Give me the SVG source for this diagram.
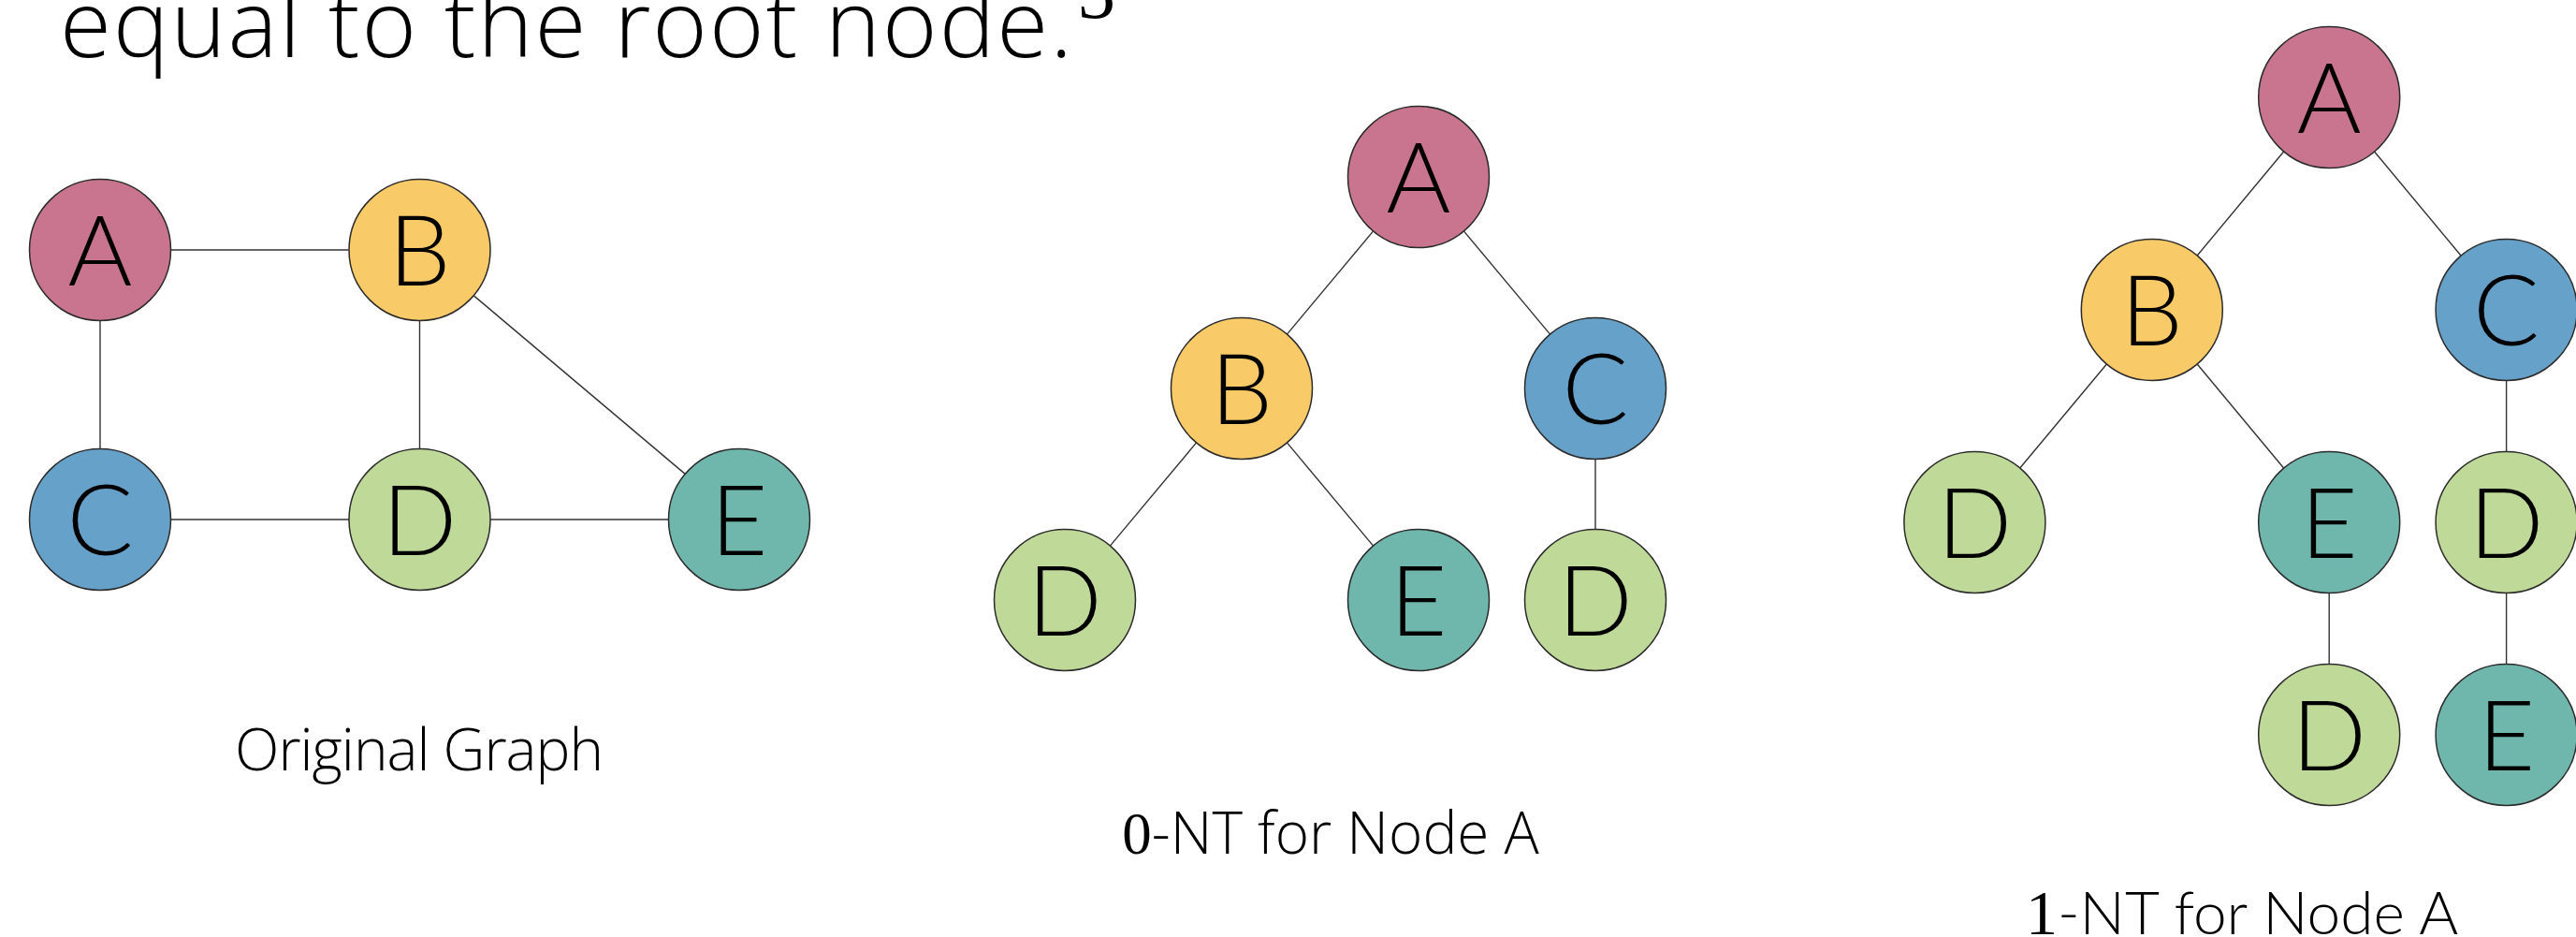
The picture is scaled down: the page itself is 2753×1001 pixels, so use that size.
<svg xmlns="http://www.w3.org/2000/svg" width="2753" height="1001" viewBox="0 0 2753 1001">
<style>
.n{stroke:#2b2b2b;stroke-width:1.5}
.a{fill:#C97590}.b{fill:#F9CA68}.c{fill:#66A1C9}.d{fill:#BFD999}.e{fill:#6FB6AD}
.l{font-family:Lato,"Open Sans",sans-serif;font-weight:300;font-size:105px;text-anchor:middle;fill:#000}
.cap{font-family:"Open Sans",Lato,sans-serif;font-weight:300;font-size:62px;text-anchor:middle;fill:#000}
.m{font-family:"Liberation Serif",serif;font-weight:400}
.edges line{stroke:#333;stroke-width:1.4}
</style>
<rect width="2753" height="1001" fill="#fff"/>
<text x="64" y="61" font-family="'Open Sans',Lato,sans-serif" font-weight="300" font-size="100" fill="#000" textLength="1082" lengthAdjust="spacing">equal to the root node.</text>
<text x="1152" y="19" class="m" font-size="80" fill="#000">3</text>
<g class="edges">
<line x1="182.5" y1="267" x2="372.5" y2="267"/>
<line x1="107" y1="342.5" x2="107" y2="479.5"/>
<line x1="448.5" y1="342.5" x2="448.5" y2="479.5"/>
<line x1="182.5" y1="555" x2="373" y2="555"/>
<line x1="524" y1="555" x2="714.5" y2="555"/>
<line x1="506" y1="315.6" x2="732.2" y2="506.4"/>
<line x1="1467.6" y1="246.9" x2="1375.4" y2="357.1"/>
<line x1="1564.4" y1="246.9" x2="1656.6" y2="357.1"/>
<line x1="1278.6" y1="472.9" x2="1186.4" y2="583.1"/>
<line x1="1375.4" y1="472.9" x2="1467.6" y2="583.1"/>
<line x1="1705" y1="490.5" x2="1705" y2="565.5"/>
<line x1="2440.6" y1="162" x2="2348.2" y2="273"/>
<line x1="2537.6" y1="162" x2="2630" y2="273"/>
<line x1="2251.4" y1="389" x2="2158.8" y2="500"/>
<line x1="2348.2" y1="389" x2="2440.6" y2="500"/>
<line x1="2678.6" y1="406.5" x2="2678.6" y2="482.5"/>
<line x1="2489.2" y1="633.5" x2="2489.2" y2="709.5"/>
<line x1="2678.6" y1="633.5" x2="2678.6" y2="709.5"/>
</g>
<g id="g-A"><circle class="n a" cx="107" cy="267" r="75.5"/><text class="l" x="107" y="304.7">A</text></g>
<g id="g-B"><circle class="n b" cx="448.5" cy="267" r="75.5"/><text class="l" x="448.5" y="304.7">B</text></g>
<g id="g-C"><circle class="n c" cx="107" cy="555" r="75.5"/><text class="l" x="107" y="592.7">C</text></g>
<g id="g-D"><circle class="n d" cx="448.5" cy="555" r="75.5"/><text class="l" x="448.5" y="592.7">D</text></g>
<g id="g-E"><circle class="n e" cx="790" cy="555" r="75.5"/><text class="l" x="790" y="592.7">E</text></g>
<text id="label-original" class="cap" x="448" y="823" textLength="394" lengthAdjust="spacing">Original Graph</text>
<g id="t0-A"><circle class="n a" cx="1516" cy="189" r="75.5"/><text class="l" x="1516" y="226.7">A</text></g>
<g id="t0-B"><circle class="n b" cx="1327" cy="415" r="75.5"/><text class="l" x="1327" y="452.7">B</text></g>
<g id="t0-C"><circle class="n c" cx="1705" cy="415" r="75.5"/><text class="l" x="1705" y="452.7">C</text></g>
<g id="t0-D"><circle class="n d" cx="1138" cy="641" r="75.5"/><text class="l" x="1138" y="678.7">D</text></g>
<g id="t0-E"><circle class="n e" cx="1516" cy="641" r="75.5"/><text class="l" x="1516" y="678.7">E</text></g>
<g id="t0-D2"><circle class="n d" cx="1705" cy="641" r="75.5"/><text class="l" x="1705" y="678.7">D</text></g>
<text id="label-0nt" class="cap" x="1422" y="912" font-size="63"><tspan class="m" font-size="63">0</tspan>-NT for Node A</text>
<g id="t1-A"><circle class="n a" cx="2489.2" cy="104" r="75.5"/><text class="l" x="2489.2" y="141.7">A</text></g>
<g id="t1-B"><circle class="n b" cx="2299.8" cy="331" r="75.5"/><text class="l" x="2299.8" y="368.7">B</text></g>
<g id="t1-C"><circle class="n c" cx="2678.6" cy="331" r="75.5"/><text class="l" x="2678.6" y="368.7">C</text></g>
<g id="t1-D1"><circle class="n d" cx="2110.4" cy="558" r="75.5"/><text class="l" x="2110.4" y="595.7">D</text></g>
<g id="t1-E1"><circle class="n e" cx="2489.2" cy="558" r="75.5"/><text class="l" x="2489.2" y="595.7">E</text></g>
<g id="t1-D2"><circle class="n d" cx="2678.6" cy="558" r="75.5"/><text class="l" x="2678.6" y="595.7">D</text></g>
<g id="t1-D3"><circle class="n d" cx="2489.2" cy="785" r="75.5"/><text class="l" x="2489.2" y="822.7">D</text></g>
<g id="t1-E2"><circle class="n e" cx="2678.6" cy="785" r="75.5"/><text class="l" x="2678.6" y="822.7">E</text></g>
<text id="label-1nt" x="2396" y="998" font-family="Lato,'Open Sans',sans-serif" font-weight="300" font-size="64" text-anchor="middle" fill="#000"><tspan class="m" font-size="68">1</tspan>-NT for Node A</text>
</svg>
